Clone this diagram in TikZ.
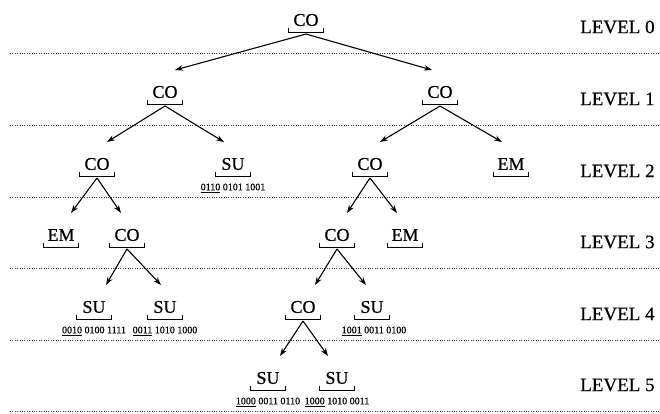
\documentclass[tikz,border=0pt]{standalone}
\usepackage{fontspec}
\setmainfont{Liberation Serif}
\newfontfamily\heavy[FakeBold=0.6]{Liberation Serif}
\usetikzlibrary{arrows.meta,calc}
\newcommand\tnode[4]{%
  \node[lab] (#1) at (#2,#3-33) {#4};
  \draw[brk] (#2-17.5,#3-25) -- (#2-17.5,#3-21) -- (#2+17.5,#3-21) -- (#2+17.5,#3-25);
  \coordinate (#1-b) at (#2,#3-19);
}
\begin{document}
\begin{tikzpicture}[x=1pt,y=-1pt,
  lab/.style={inner sep=0pt,font=\heavy\fontsize{18}{18}\selectfont},
  lvl/.style={inner sep=0pt,anchor=west,font=\heavy\fontsize{19}{19}\selectfont},
  bits/.style={inner sep=0pt,font=\heavy\fontsize{10}{10}\selectfont},
  brk/.style={line width=1pt},
  sep/.style={line width=0.7pt,dash pattern=on 0.8pt off 1.6pt,black!75},
  arr/.style={line width=1.1pt,-{Stealth[length=8pt,width=5.5pt]}}]
\useasboundingbox (0,0) rectangle (660,413);
% separators and level labels
\foreach \L/\k in {53/0,125/1,197/2,268/3,340/4,411/5}{
  \draw[sep] (10,\L) -- (660,\L);
  \node[lvl] (lv\k) at (580,\L-26) {LEVEL \k};
}
% level 0
\tnode{r}{306}{53}{CO}
% level 1
\tnode{n1}{165}{125}{CO}
\tnode{n2}{440}{125}{CO}
% level 2
\tnode{n3}{97}{197}{CO}
\tnode{n4}{233}{197}{SU}
\tnode{n5}{370}{197}{CO}
\tnode{n6}{511}{197}{EM}
% level 3
\tnode{n7}{61}{268}{EM}
\tnode{n8}{127}{268}{CO}
\tnode{n9}{337}{268}{CO}
\tnode{n10}{405}{268}{EM}
% level 4
\tnode{n11}{94}{340}{SU}
\tnode{n12}{165}{340}{SU}
\tnode{n13}{303}{340}{CO}
\tnode{n14}{372}{340}{SU}
% level 5
\tnode{n15}{268}{411}{SU}
\tnode{n16}{337}{411}{SU}
% bit strings
\node[bits] (x4) at (233,197-9) {\underline{0110} 0101 1001};
\node[bits] (x11) at (94,340-9) {\underline{0010} 0100 1111};
\node[bits] (x12) at (165,340-9) {\underline{0011} 1010 1000};
\node[bits] (x14) at (374,340-9) {\underline{1001} 0011 0100};
\node[bits] (x15) at (268,411-9) {\underline{1000} 0011 0110};
\node[bits] (x16) at (337,411-9) {\underline{1000} 1010 0011};
% arrows
\foreach \p/\c/\s in {r/n1/10,r/n2/-8,n1/n3/10,n1/n4/-9,n2/n5/10,n2/n6/-9,
  n3/n7/10,n3/n8/-6,n5/n9/10,n5/n10/-8,n8/n11/12,n8/n12/-4,
  n9/n13/12,n9/n14/-6,n13/n15/12,n13/n16/-9}{
  \coordinate (\c-t) at ($(\c)+(\s,-22)$);
  \draw[arr] (\p-b) -- (\c-t);
}
\end{tikzpicture}
\end{document}
